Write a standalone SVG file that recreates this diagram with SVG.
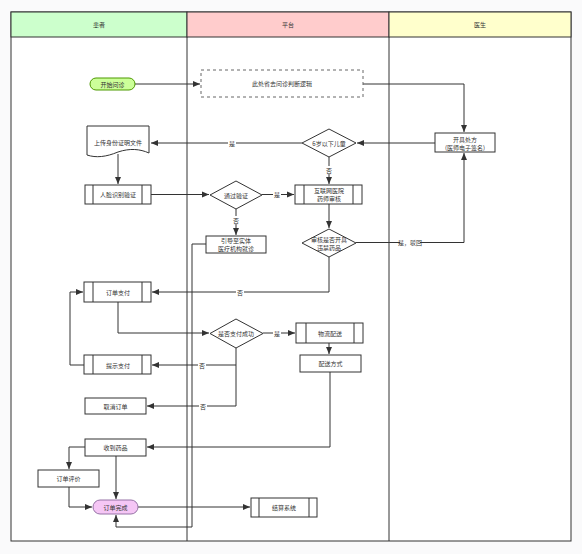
<svg xmlns="http://www.w3.org/2000/svg" width="582" height="554" viewBox="0 0 582 554">
<style>
text{font-family:"Noto Sans CJK SC","Liberation Sans",sans-serif;font-size:6px;fill:#333;text-anchor:middle;dominant-baseline:central}
.n{fill:#fff;stroke:#333;stroke-width:1}
.c{fill:none;stroke:#333;stroke-width:1}
.lb{fill:#fff;stroke:none}
.lane{fill:#fff;stroke:#333;stroke-width:1}
</style>
<defs>
<marker id="a" markerWidth="8" markerHeight="8" refX="7" refY="4" orient="auto" markerUnits="userSpaceOnUse">
<path d="M0,1 L7,4 L0,7 Z" fill="#333"/>
</marker>
</defs>
<rect width="582" height="554" fill="#fafafb"/>
<g id="lanes">
<rect class="lane" x="11" y="12" width="560" height="529"/>
<rect x="11" y="12" width="176" height="25" fill="#ccffcc" stroke="#333"/>
<rect x="187" y="12" width="202" height="25" fill="#ffcccc" stroke="#333"/>
<rect x="389" y="12" width="182" height="25" fill="#ffffcc" stroke="#333"/>
<line x1="187" y1="37" x2="187" y2="541" stroke="#333"/>
<line x1="389" y1="37" x2="389" y2="541" stroke="#333"/>
<text x="99" y="24.5">患者</text>
<text x="288" y="24.5">平台</text>
<text x="480" y="24.5">医生</text>
</g>
<g id="connectors">
<path class="c" d="M135,84 H200" marker-end="url(#a)"/>
<path class="c" d="M363,84 H464 V132" marker-end="url(#a)"/>
<path class="c" d="M435,143 H357" marker-end="url(#a)"/>
<path class="c" d="M302,143 H151" marker-end="url(#a)"/>
<path class="c" d="M118,154 V184" marker-end="url(#a)"/>
<path class="c" d="M151,194.5 H209" marker-end="url(#a)"/>
<path class="c" d="M262,194.5 H294" marker-end="url(#a)"/>
<path class="c" d="M236,209 V235" marker-end="url(#a)"/>
<path class="c" d="M329,157 V184" marker-end="url(#a)"/>
<path class="c" d="M329,204 V228" marker-end="url(#a)"/>
<path class="c" d="M356,242.5 H464 V153" marker-end="url(#a)"/>
<path class="c" d="M329,257 V292 H152" marker-end="url(#a)"/>
<path class="c" d="M118,302 V333 H209" marker-end="url(#a)"/>
<path class="c" d="M263,333 H295" marker-end="url(#a)"/>
<path class="c" d="M329,343 V354" marker-end="url(#a)"/>
<path class="c" d="M236,348 V365 H152" marker-end="url(#a)"/>
<path class="c" d="M236,365 V406 H147" marker-end="url(#a)"/>
<path class="c" d="M84,365 H70 V292 H83" marker-end="url(#a)"/>
<path class="c" d="M330,372 V447 H147" marker-end="url(#a)"/>
<path class="c" d="M85,447 H69 V469" marker-end="url(#a)"/>
<path class="c" d="M69,487 V507 H92" marker-end="url(#a)"/>
<path class="c" d="M116,456 V499" marker-end="url(#a)"/>
<path class="c" d="M138,507 H250" marker-end="url(#a)"/>
<path class="c" d="M206,244 H192 V527 H116 V515" marker-end="url(#a)"/>
<rect class="lb" x="228" y="139" width="8" height="8"/>
<text x="232" y="143">是</text>
<rect class="lb" x="273" y="190.5" width="8" height="8"/>
<text x="277" y="194.5">是</text>
<rect class="lb" x="232" y="216" width="8" height="8"/>
<text x="236" y="220">否</text>
<rect class="lb" x="325" y="166" width="8" height="8"/>
<text x="329" y="170">否</text>
<rect class="lb" x="400" y="238.5" width="20" height="8"/>
<text x="410" y="242.5">是，驳回</text>
<rect class="lb" x="236" y="288" width="8" height="8"/>
<text x="240" y="292">否</text>
<rect class="lb" x="273" y="329" width="8" height="8"/>
<text x="277" y="333">是</text>
<rect class="lb" x="198" y="361" width="8" height="8"/>
<text x="202" y="365">否</text>
<rect class="lb" x="199" y="402" width="8" height="8"/>
<text x="203" y="406">否</text>
</g>
<g id="start">
<rect x="90" y="78" width="45" height="12" rx="6" fill="#ccff99" stroke="#4d9900"/>
<text x="112.5" y="84">开始问诊</text>
</g>
<g id="omit">
<rect x="201" y="70" width="162" height="27" fill="#fff" stroke="#666" stroke-dasharray="3,3"/>
<text x="282" y="83.5">此处省去问诊判断逻辑</text>
</g>
<g id="prescribe">
<rect class="n" x="435" y="133" width="60" height="19"/>
<text x="465" y="139">开具处方</text>
<text x="465" y="147">(医师电子签名)</text>
</g>
<g id="child">
<path class="n" d="M329,129 L356,143 L329,157 L302,143 Z"/>
<text x="329" y="143">6岁以下儿童</text>
</g>
<g id="upload">
<path class="n" d="M87,126 H149 V153 C140,149 130,148 118,152 C106,157 96,158 87,155 Z"/>
<text x="118" y="142.5">上传身份证明文件</text>
</g>
<g id="face">
<rect class="n" x="85" y="185" width="66" height="19"/>
<line x1="93" y1="185" x2="93" y2="204" stroke="#333"/>
<line x1="142" y1="185" x2="142" y2="204" stroke="#333"/>
<text x="118" y="194.5">人脸识别验证</text>
</g>
<g id="verify">
<path class="n" d="M236,181 L262,195 L236,209 L210,195 Z"/>
<text x="236" y="195">通过验证</text>
</g>
<g id="pharm">
<rect class="n" x="295" y="185" width="67" height="19"/>
<line x1="304" y1="185" x2="304" y2="204" stroke="#333"/>
<line x1="353" y1="185" x2="353" y2="204" stroke="#333"/>
<text x="329" y="190.5">互联网医院</text>
<text x="329" y="198.5">药师审核</text>
</g>
<g id="guide">
<rect class="n" x="206" y="236" width="60" height="17"/>
<text x="236" y="240.5">引导至实体</text>
<text x="236" y="248.5">医疗机构就诊</text>
</g>
<g id="banned">
<path class="n" d="M329,229 L356,243 L329,257 L302,243 Z"/>
<text x="329" y="239">审核是否开具</text>
<text x="329" y="247">违禁药品</text>
</g>
<g id="pay">
<rect class="n" x="84" y="282" width="67" height="20"/>
<line x1="93" y1="282" x2="93" y2="302" stroke="#333"/>
<line x1="142" y1="282" x2="142" y2="302" stroke="#333"/>
<text x="118" y="292">订单支付</text>
</g>
<g id="paid">
<path class="n" d="M236,319 L263,333.5 L236,348 L210,333.5 Z"/>
<text x="236" y="333.5">是否支付成功</text>
</g>
<g id="logistics">
<rect class="n" x="296" y="323" width="67" height="20"/>
<line x1="306" y1="323" x2="306" y2="343" stroke="#333"/>
<line x1="354" y1="323" x2="354" y2="343" stroke="#333"/>
<text x="330" y="333">物流配送</text>
</g>
<g id="method">
<rect class="n" x="300" y="355" width="61" height="17"/>
<text x="330.5" y="363.5">配送方式</text>
</g>
<g id="remind">
<rect class="n" x="84" y="355" width="67" height="19"/>
<line x1="93" y1="355" x2="93" y2="374" stroke="#333"/>
<line x1="142" y1="355" x2="142" y2="374" stroke="#333"/>
<text x="118" y="365">提示支付</text>
</g>
<g id="cancel">
<rect class="n" x="85" y="398" width="61" height="16"/>
<text x="115.5" y="406">取消订单</text>
</g>
<g id="received">
<rect class="n" x="85" y="439" width="61" height="17"/>
<text x="115.5" y="447.5">收到药品</text>
</g>
<g id="review">
<rect class="n" x="38" y="470" width="61" height="17"/>
<text x="68.5" y="478.5">订单评价</text>
</g>
<g id="done">
<rect x="93" y="500" width="45" height="14" rx="7" fill="#f5c6f5" stroke="#9673a6"/>
<text x="115.5" y="507">订单完成</text>
</g>
<g id="settle">
<rect class="n" x="251" y="498" width="66" height="19"/>
<line x1="259" y1="498" x2="259" y2="517" stroke="#333"/>
<line x1="309" y1="498" x2="309" y2="517" stroke="#333"/>
<text x="284" y="507.5">结算系统</text>
</g>
</svg>
